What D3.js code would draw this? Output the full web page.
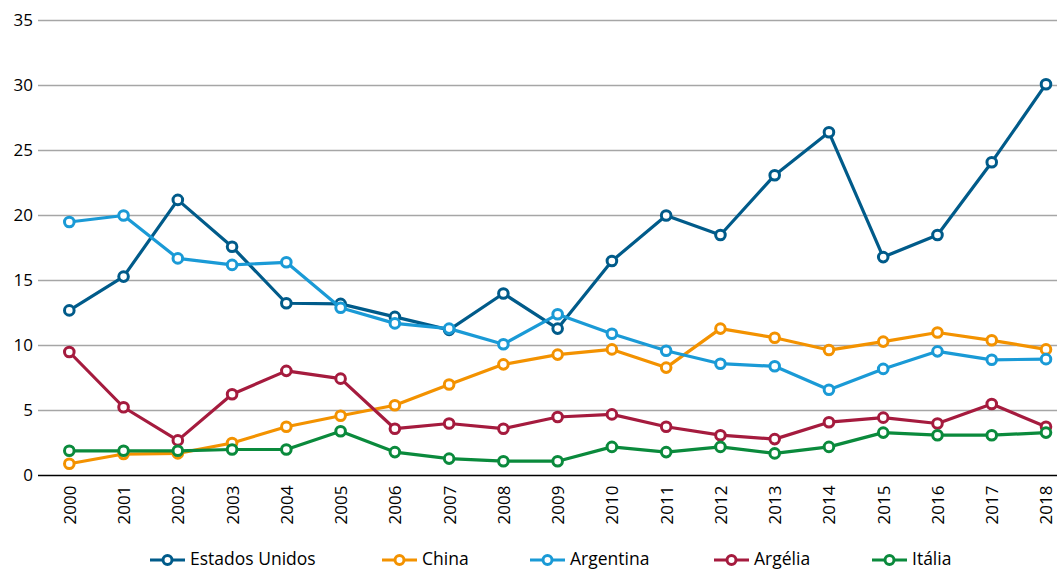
<!DOCTYPE html>
<html><head><meta charset="utf-8">
<script src="https://cdn.jsdelivr.net/npm/d3@7"></script>
<style>body{margin:0;background:#fff}svg{display:block}text{font-family:"Open Sans",sans-serif}</style>
</head><body><svg id="c" width="1057" height="570"></svg>
<script>
const years = ["2000","2001","2002","2003","2004","2005","2006","2007","2008","2009","2010","2011","2012","2013","2014","2015","2016","2017","2018"];
const estadosUnidos = [12.7,15.3,21.2,17.6,13.25,13.2,12.2,11.2,14.0,11.3,16.5,20.0,18.5,23.1,26.4,16.8,18.5,24.1,30.1];
const china = [0.9,1.65,1.7,2.5,3.75,4.6,5.4,7.0,8.55,9.3,9.7,8.3,11.3,10.6,9.65,10.3,11.0,10.4,9.7];
const argentina = [19.5,20.0,16.7,16.2,16.4,12.9,11.7,11.3,10.1,12.4,10.9,9.6,8.6,8.4,6.6,8.2,9.55,8.9,8.95];
const argelia = [9.5,5.25,2.7,6.25,8.05,7.45,3.6,4.0,3.6,4.5,4.7,3.75,3.1,2.8,4.1,4.45,4.0,5.5,3.75];
const italia = [1.9,1.9,1.9,2.0,2.0,3.4,1.8,1.3,1.1,1.1,2.2,1.8,2.2,1.7,2.2,3.3,3.1,3.1,3.3];
const yTicks = [0,5,10,15,20,25,30,35];
const seriesNames = ["Estados Unidos","China","Argentina","Argélia","Itália"];
const seriesColors = ["#005b8a","#f39200","#1a9ad6","#a51b3e","#0a8a3c"];
const seriesData = [estadosUnidos, china, argentina, argelia, italia];

const svg = d3.select("#c");
const x = d3.scalePoint().domain(years).range([69.3, 1046]);
const y = d3.scaleLinear().domain([0,35]).range([475.5, 20.5]);

svg.append("g").selectAll("line").data(yTicks.filter(t=>t>0)).join("line")
  .attr("x1",38).attr("x2",1057).attr("y1",d=>y(d)).attr("y2",d=>y(d))
  .attr("stroke","#a6a6a6").attr("stroke-width",1.5);

const ya = svg.append("g").attr("transform","translate(38,0)")
  .call(d3.axisLeft(y).tickValues(yTicks).tickSize(0).tickPadding(5));
ya.select(".domain").remove();
ya.selectAll("text").attr("font-family","'Open Sans',sans-serif").attr("font-size",17).attr("fill","#000");

const xa = svg.append("g").attr("transform",`translate(0,${y(0)})`)
  .call(d3.axisBottom(x).tickSize(0).tickPadding(0));
xa.select(".domain").remove();
xa.selectAll("text").attr("font-family","'Open Sans',sans-serif").attr("font-size",17).attr("fill","#000")
  .attr("transform","rotate(-90)").attr("text-anchor","end").attr("dx","-10").attr("dy","0.35em").attr("x",0).attr("y",0);
svg.append("line").attr("x1",38).attr("x2",1057).attr("y1",y(0)).attr("y2",y(0))
  .attr("stroke","#000").attr("stroke-width",1.5);

const line = d3.line().x((d,i)=>x(years[i])).y(d=>y(d));
seriesData.forEach((data,k)=>{
  const g = svg.append("g");
  g.append("path").datum(data).attr("d",line).attr("fill","none")
    .attr("stroke",seriesColors[k]).attr("stroke-width",3.2).attr("stroke-linejoin","round");
  g.selectAll("circle").data(data).join("circle")
    .attr("cx",(d,i)=>x(years[i])).attr("cy",d=>y(d)).attr("r",4.8)
    .attr("fill","#fff").attr("stroke",seriesColors[k]).attr("stroke-width",3);
});

const legX = [150, 382, 530, 714, 872];
const leg = svg.append("g");
seriesNames.forEach((n,k)=>{
  const g = leg.append("g").attr("transform",`translate(${legX[k]},560)`);
  g.append("line").attr("x1",0).attr("x2",35).attr("stroke",seriesColors[k]).attr("stroke-width",3.2);
  g.append("circle").attr("cx",17.5).attr("r",4.5).attr("fill","#fff").attr("stroke",seriesColors[k]).attr("stroke-width",3);
  g.append("text").attr("x",40).attr("y",4.5).attr("font-size",17.5).text(n);
});
</script></body></html>
